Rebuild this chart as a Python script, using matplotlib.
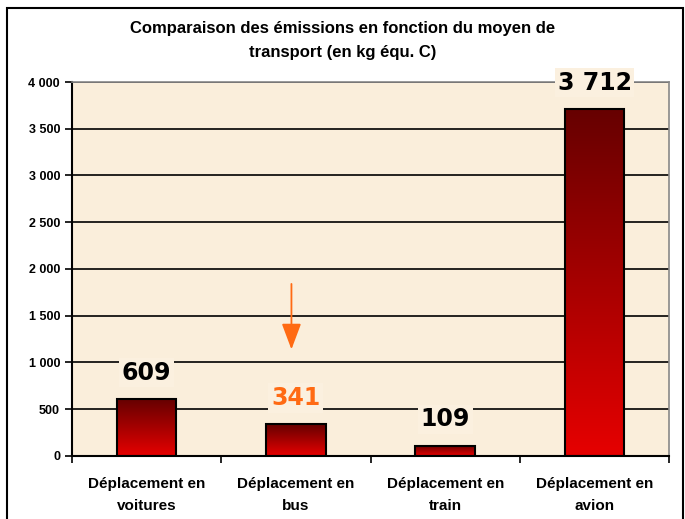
import matplotlib.pyplot as plt
import numpy as np
from matplotlib.patches import Rectangle

categories = ["Déplacement en\nvoitures", "Déplacement en\nbus", "Déplacement en\ntrain", "Déplacement en\navion"]
values = [609, 341, 109, 3712]
labels = ["609", "341", "109", "3 712"]
label_colors = ["black", "#ff6a13", "black", "black"]
yticks = [0, 500, 1000, 1500, 2000, 2500, 3000, 3500, 4000]
ytick_labels = ["0", "500", "1 000", "1 500", "2 000", "2 500", "3 000", "3 500", "4 000"]

bg = "#faeedb"
fig = plt.figure(figsize=(6.85, 5.19), dpi=100)
ax = fig.add_axes([0.105, 0.1214, 0.872, 0.7206])
ax.set_facecolor(bg)

# outer frame of the chart
fig.patches.append(Rectangle((7 / 685, -0.05), 676 / 685, 1.05 - 8 / 519, transform=fig.transFigure,
                             fill=False, edgecolor="black", linewidth=1.5))

for y in yticks[1:]:
    ax.axhline(y, color="black", linewidth=1.2, zorder=1)

grad = np.linspace(0, 1, 256).reshape(-1, 1)
cmap = plt.matplotlib.colors.LinearSegmentedColormap.from_list("r", ["#e60000", "#660000"])
x = np.arange(len(values))
bars = ax.bar(x, values, width=0.4, color="none", edgecolor="black", linewidth=1.5, zorder=3)
for b, v in zip(bars, values):
    x0 = b.get_x()
    im = ax.imshow(grad, extent=[x0, x0 + b.get_width(), 0, v], origin="lower", cmap=cmap,
                   aspect="auto", zorder=2)
    im.set_clip_path(b)
ax.set_xlim(-0.5, 3.5)
ax.set_ylim(0, 4000)

for xi, v, lab, c in zip(x, values, labels, label_colors):
    ax.annotate(lab, (xi, v), xytext=(0, 19), textcoords="offset points", ha="center", va="center",
                fontsize=17, fontweight="bold", color=c, family="DejaVu Sans", zorder=5,
                bbox=dict(facecolor="#fbf0df", edgecolor="none", pad=2))

ax.annotate("", xy=(0.97, 1110), xytext=(0.97, 1870),
            arrowprops=dict(arrowstyle="-|>,head_length=1.6,head_width=0.6", color="#ff6a13", lw=1.3))

ax.set_yticks(yticks)
ax.set_yticklabels(ytick_labels, fontsize=9, fontweight="bold", family="Liberation Sans")
ax.tick_params(axis="y", length=5, width=1.2, direction="out")
ax.set_xticks([-0.5, 0.5, 1.5, 2.5, 3.5])
ax.set_xticklabels([])
ax.tick_params(axis="x", which="major", length=5, width=1.2, direction="out")
ax.set_xticks(x, minor=True)
ax.set_xticklabels(categories, minor=True, fontsize=11, fontweight="bold", family="Liberation Sans",
                   linespacing=1.7)
ax.tick_params(axis="x", which="minor", length=0, pad=15)

for s in ["left", "bottom"]:
    ax.spines[s].set_linewidth(1.5)
    ax.spines[s].set_color("black")
for s in ["top", "right"]:
    ax.spines[s].set_color("#888888")
    ax.spines[s].set_linewidth(1.2)

fig.text(0.5, 1 - 40 / 519, "Comparaison des émissions en fonction du moyen de\ntransport (en kg équ. C)",
         ha="center", va="center", fontsize=12, fontweight="bold", family="Liberation Sans",
         linespacing=1.75)

fig.savefig("out.png", dpi=100)
